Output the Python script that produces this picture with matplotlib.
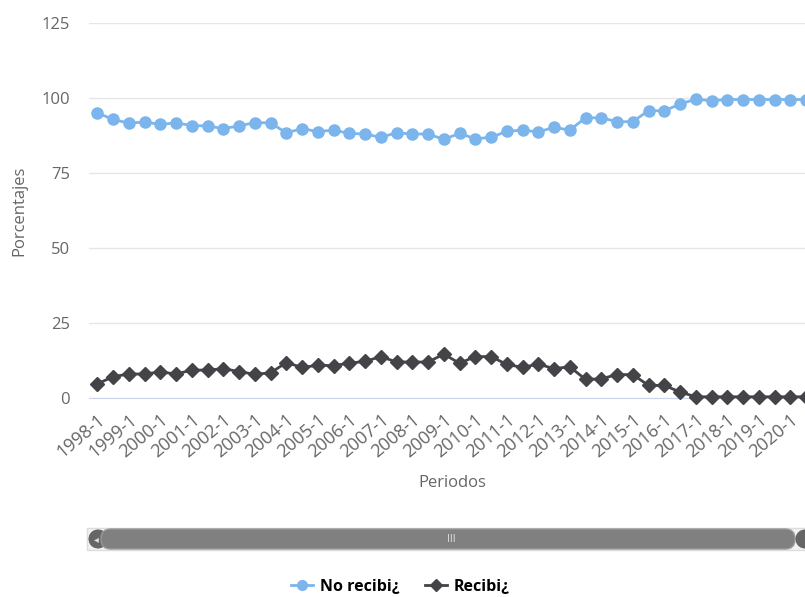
import matplotlib
matplotlib.use('Agg')
import matplotlib.pyplot as plt
from matplotlib.patches import FancyBboxPatch, Rectangle
from matplotlib.lines import Line2D

# Periodos semestrales 1998-1 ... 2020-2
periodos = [str(a) + '-' + str(s) for a in range(1998, 2021) for s in (1, 2)]

# Porcentajes
no_recibi = [95.0, 92.9, 91.6, 92.0, 91.2, 91.7, 90.8, 90.7, 89.8, 90.7,
             91.8, 91.7, 88.4, 89.8, 88.8, 89.3, 88.2, 88.0, 86.9, 88.4,
             88.0, 88.0, 86.2, 88.2, 86.4, 86.9, 88.9, 89.3, 88.7, 90.2,
             89.3, 93.4, 93.4, 92.1, 92.1, 95.8, 95.7, 98.0, 99.6, 99.1,
             99.5, 99.5, 99.5, 99.5, 99.5, 99.5]
recibi = [4.7, 7.1, 8.0, 8.0, 8.7, 8.0, 9.3, 9.3, 9.8, 8.8,
          7.9, 8.4, 11.8, 10.2, 10.9, 10.8, 11.6, 12.2, 13.8, 12.0,
          12.0, 12.0, 14.6, 11.6, 13.8, 13.8, 11.2, 10.2, 11.3, 9.8,
          10.4, 6.2, 6.4, 7.8, 7.8, 4.2, 4.2, 2.0, 0.4, 0.4,
          0.4, 0.4, 0.4, 0.4, 0.4, 0.4]
y_ticks = [0, 25, 50, 75, 100, 125]

azul = '#7cb5ec'
negro = '#434348'
gris = '#666666'

fig = plt.figure(figsize=(8.05, 5.97), dpi=100)
ax = fig.add_axes([89.4 / 805, 199 / 597, 724.5 / 805, 375 / 597])

x = list(range(len(periodos)))
ax.plot(x, no_recibi, '-o', color=azul, lw=2, markersize=8, clip_on=False, zorder=3)
ax.plot(x, recibi, '-D', color=negro, lw=2, markersize=7, clip_on=False, zorder=3)

ax.set_xlim(-0.5, len(periodos) - 0.5)
ax.set_ylim(0, 125)
ax.set_yticks(y_ticks)
ax.set_xticks(x[::2])
ax.set_xticklabels(periodos[::2], rotation=40, ha='right', rotation_mode='anchor',
                   fontsize=13, color=gris, family='Open Sans')
for lab in ax.get_yticklabels():
    lab.set_family('Open Sans')
ax.tick_params(axis='y', length=0, pad=14, labelsize=12, labelcolor=gris)
ax.tick_params(axis='x', length=0, pad=9)
ax.grid(axis='y', color='#e6e6e6', lw=1)
ax.set_axisbelow(True)
for s in ['top', 'right', 'left']:
    ax.spines[s].set_visible(False)
ax.spines['bottom'].set_color('#ccd6eb')

ax.set_ylabel('Porcentajes', fontsize=12, color=gris, family='Open Sans', labelpad=10)
fig.text(452 / 805, 1 - 483 / 597, 'Periodos', fontsize=12, color=gris,
         family='Open Sans', ha='center', va='center')

# Barra de desplazamiento (scrollbar)
fig.patches.append(Rectangle((87 / 805, 1 - 550 / 597), 720 / 805, 22 / 597,
                             transform=fig.transFigure, facecolor='#f2f2f2',
                             edgecolor='#dddddd', lw=1))
fig.patches.append(FancyBboxPatch((88 / 805, 1 - 549 / 597), 20 / 805, 20 / 597,
                                  boxstyle='round,pad=0,rounding_size=0.016',
                                  transform=fig.transFigure, facecolor=gris,
                                  edgecolor='none', mutation_aspect=805 / 597))
fig.patches.append(FancyBboxPatch((101 / 805, 1 - 549 / 597), 694 / 805, 20 / 597,
                                  boxstyle='round,pad=0,rounding_size=0.012',
                                  transform=fig.transFigure, facecolor='#808080',
                                  edgecolor='#999999', lw=1, mutation_aspect=805 / 597))
fig.patches.append(FancyBboxPatch((795 / 805, 1 - 549 / 597), 20 / 805, 20 / 597,
                                  boxstyle='round,pad=0,rounding_size=0.016',
                                  transform=fig.transFigure, facecolor=gris,
                                  edgecolor='none', mutation_aspect=805 / 597))
fig.text(96 / 805, 1 - 539 / 597, '◂', fontsize=7, color='#dddddd', ha='center', va='center')
fig.text(451 / 805, 1 - 539 / 597, 'III', fontsize=7, color='#dddddd', ha='center', va='center')

# Leyenda
leg_handles = [Line2D([], [], color=azul, marker='o', lw=2, markersize=7),
               Line2D([], [], color=negro, marker='D', lw=2, markersize=6)]
fig.legend(leg_handles, ['No recibi¿', 'Recibi¿'], loc='center',
           bbox_to_anchor=(400 / 805, 1 - 587 / 597), ncol=2, frameon=False,
           handlelength=1.4, handletextpad=0.4, columnspacing=1.6,
           prop={'family': ['Liberation Sans Narrow', 'Open Sans'], 'weight': 'bold', 'size': 11.5})

fig.savefig('out.png', dpi=100)
